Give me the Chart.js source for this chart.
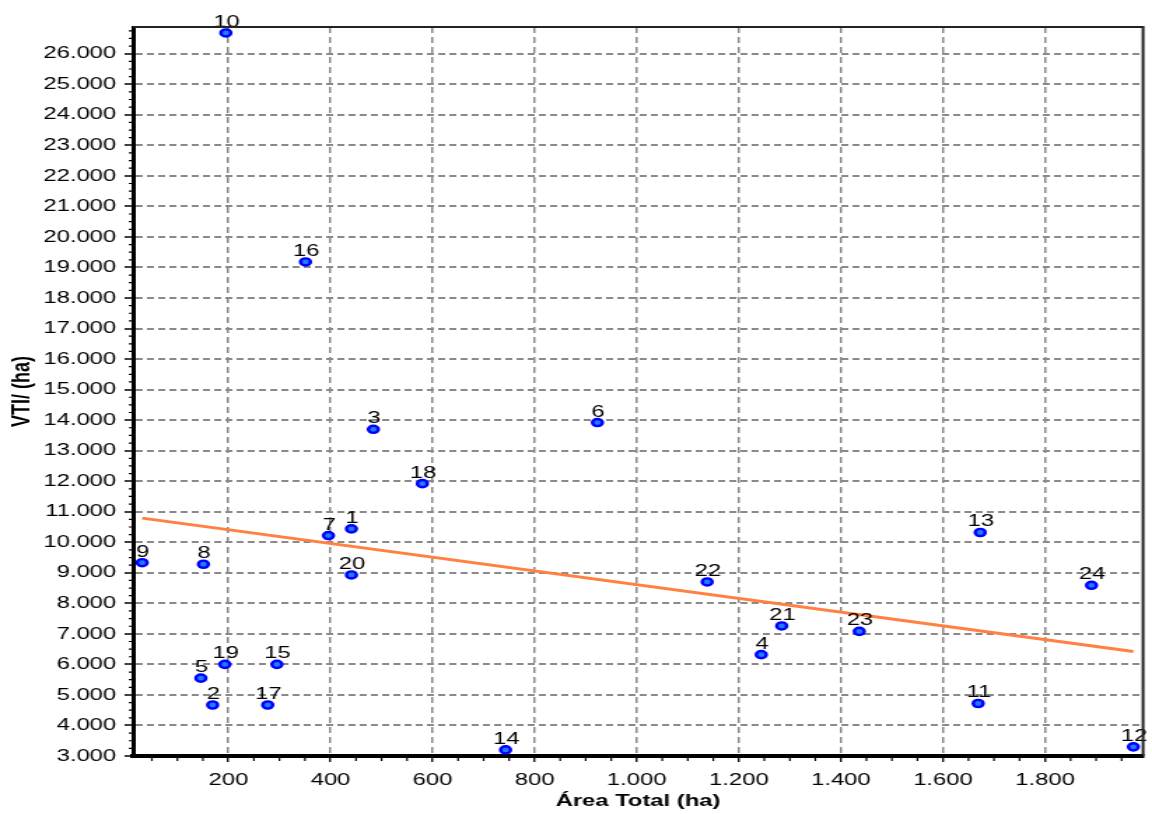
<!DOCTYPE html>
<html>
<head>
<meta charset="utf-8">
<script src="https://cdn.jsdelivr.net/npm/chart.js@4.4.0/dist/chart.umd.min.js"></script>
<style>
  html, body { margin: 0; padding: 0; background: #ffffff; overflow: hidden; }
  /* the plot is drawn narrow and widened on screen, giving the wide lettering */
  #c { display: block; transform-origin: 0 0; transform: scaleX(1.39976); }
</style>
</head>
<body>
<canvas id="c" width="823" height="814"></canvas>
<script>
// Property ids (point labels)
const pointIds = ['1','2','3','4','5','6','7','8','9','10','11','12',
                  '13','14','15','16','17','18','19','20','21','22','23','24'];
// Área Total (ha)
const areaTotal = [441, 169, 484, 1244, 146, 923, 396, 151, 31, 195, 1669, 1973,
                   1673, 743, 295, 351, 277, 580, 193, 441, 1284, 1138, 1436, 1891];
// VTI / (ha)
const vtiPerHa = [10440, 4670, 13700, 6320, 5550, 13920, 10220, 9280, 9330, 26680, 4720, 3300,
                  10320, 3200, 6000, 19180, 4670, 11920, 6000, 8930, 7260, 8700, 7080, 8590];
// Trend line end points
const trendArea = [31, 1973];
const trendVti = [10790, 6420];
// Axis tick values
const xTickValues = [200, 400, 600, 800, 1000, 1200, 1400, 1600, 1800];
const yTickValues = [3000, 4000, 5000, 6000, 7000, 8000, 9000, 10000, 11000, 12000, 13000,
                     14000, 15000, 16000, 17000, 18000, 19000, 20000, 21000, 22000, 23000,
                     24000, 25000, 26000];

const FONT = '"Liberation Sans", Arial, sans-serif';
const fmt = v => String(Math.round(v)).replace(/\B(?=(\d{3})+(?!\d))/g, '.');

const points = areaTotal.map((x, i) => ({ x: x, y: vtiPerHa[i] }));
const trend = trendArea.map((x, i) => ({ x: x, y: trendVti[i] }));

// minor ticks, top/right frame
const framePlugin = {
  id: 'frame',
  afterDraw(chart) {
    const { ctx, chartArea: a, scales } = chart;
    const xs = scales.x, ys = scales.y;
    ctx.save();
    ctx.strokeStyle = '#000';
    ctx.lineWidth = 1.2;
    ctx.beginPath();
    for (let v = 50; v < xs.max; v += 50) {
      if (v < xs.min || v % 200 === 0) continue;
      const px = xs.getPixelForValue(v);
      ctx.moveTo(px, a.bottom); ctx.lineTo(px, a.bottom + 5);
    }
    for (let v = 3250; v < ys.max; v += 250) {
      if (v % 1000 === 0) continue;
      const py = ys.getPixelForValue(v);
      ctx.moveTo(a.left - 3, py); ctx.lineTo(a.left, py);
    }
    ctx.stroke();
    ctx.strokeStyle = '#222';
    ctx.lineWidth = 2;
    ctx.beginPath();
    ctx.moveTo(a.left, a.top); ctx.lineTo(a.right, a.top); ctx.lineTo(a.right, a.bottom);
    ctx.stroke();
    ctx.restore();
  }
};

// id numbers above each property point
const pointLabelsPlugin = {
  id: 'pointLabels',
  afterDatasetsDraw(chart) {
    const meta = chart.getDatasetMeta(1);
    const ctx = chart.ctx;
    ctx.save();
    ctx.font = '17px ' + FONT;
    ctx.fillStyle = '#000';
    ctx.textAlign = 'center';
    ctx.textBaseline = 'alphabetic';
    meta.data.forEach((el, i) => ctx.fillText(pointIds[i], el.x + 0.5, el.y - 6));
    ctx.restore();
  }
};

new Chart(document.getElementById('c'), {
  type: 'scatter',
  data: {
    datasets: [
      {
        label: 'Tendência',
        data: trend,
        showLine: true,
        borderColor: '#ff8040',
        borderWidth: 3,
        pointRadius: 0,
        fill: false,
        order: 2,
        clip: false
      },
      {
        label: 'VTI / (ha)',
        data: points,
        pointRadius: 3.6,
        pointBorderWidth: 2.4,
        pointBackgroundColor: '#1f7bff',
        pointBorderColor: '#0000ff',
        order: 1,
        clip: false
      }
    ]
  },
  options: {
    responsive: false,
    animation: false,
    devicePixelRatio: 1,
    layout: { padding: { top: 27, right: 4, left: 0, bottom: 0 } },
    plugins: { legend: { display: false }, tooltip: { enabled: false } },
    scales: {
      x: {
        type: 'linear',
        min: 13,
        max: 1992,
        afterBuildTicks: s => { s.ticks = xTickValues.map(v => ({ value: v })); },
        afterFit: s => { s.height = 58; },
        ticks: {
          callback: v => fmt(v),
          color: '#000',
          padding: 8,
          maxRotation: 0,
          autoSkip: false,
          font: { family: FONT, size: 17 }
        },
        grid: {
          color: '#8a8a8a',
          lineWidth: 1.5,
          tickLength: 6,
          tickColor: '#000',
          tickWidth: 1.3
        },
        border: { display: true, color: '#000', width: 4, dash: [6, 4] },
        title: {
          display: true,
          text: 'Área Total (ha)',
          color: '#000',
          font: { family: FONT, size: 17, weight: 'bold' },
          padding: { top: 0, bottom: 2 }
        }
      },
      y: {
        type: 'linear',
        min: 3000,
        max: 26875,
        afterBuildTicks: s => { s.ticks = yTickValues.map(v => ({ value: v })); },
        afterFit: s => { s.width = 95; },
        ticks: {
          callback: v => fmt(v),
          color: '#000',
          padding: 6,
          autoSkip: false,
          font: { family: FONT, size: 17 }
        },
        grid: {
          color: '#8a8a8a',
          lineWidth: 2,
          tickLength: 6,
          tickColor: '#000',
          tickWidth: 1.5
        },
        border: { display: true, color: '#000', width: 3, dash: [5, 3] },
        title: {
          display: true,
          text: 'VTI/ (ha)',
          color: '#000',
          font: { family: FONT, size: 18, weight: 'bold' },
          padding: { top: 5, bottom: 0 }
        }
      }
    }
  },
  plugins: [framePlugin, pointLabelsPlugin]
});
</script>
</body>
</html>
